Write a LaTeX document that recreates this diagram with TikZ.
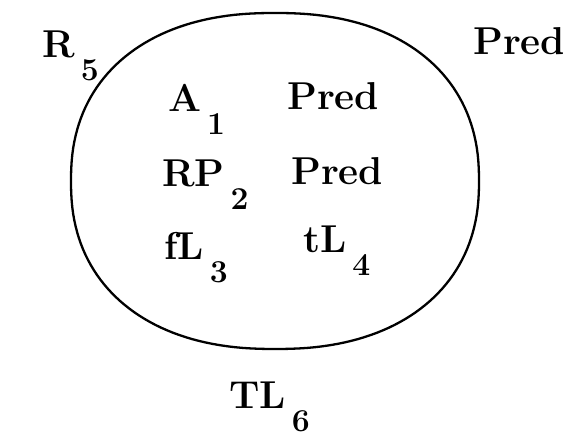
\documentclass[tikz,border=0pt]{standalone}
\usepackage{tikz}
\usetikzlibrary{positioning}

% lowered index, drawn large as in the original typescript
\newcommand{\lowidx}[1]{\hspace{6bp}\raisebox{-23bp}{\fontsize{32}{32}\selectfont #1}}

\tikzset{
  lbl/.style={anchor=base west,inner sep=0pt,font=\fontsize{39}{44}\selectfont\bfseries},
  outline/.style={line width=2.3bp,line join=round}
}

\begin{document}
\begin{tikzpicture}[x=1bp,y=1bp]
  \useasboundingbox (0,0) rectangle (571,437);

  % The closed region: a rounded, slightly squarish loop.
  \draw[outline] plot[domain=1:359,samples=180]
    ({275+204*sign(cos(\x))*abs(cos(\x))^0.88},
     {256+168*sign(sin(\x))*abs(sin(\x))^0.88}) -- cycle;

  % Labels outside the region.
  \node[lbl] (r5) at (42,379) {R\lowidx{5}};
  \node[lbl] (predout) at (473,382) {Pred};
  \node[lbl] (tl6) at (229,28) {TL\lowidx{6}};

  % Labels inside the region.
  \node[lbl] (a1) at (168,325) {A\lowidx{1}};
  \node[lbl] (preda) at (287,327) {Pred};
  \node[lbl] (rp2) at (162,250) {RP\lowidx{2}};
  \node[lbl] (predb) at (291,252) {Pred};
  \node[lbl] (fl3) at (164,177) {fL\lowidx{3}};
  \node[lbl] (tl4) at (303,184) {tL\lowidx{4}};
\end{tikzpicture}
\end{document}
